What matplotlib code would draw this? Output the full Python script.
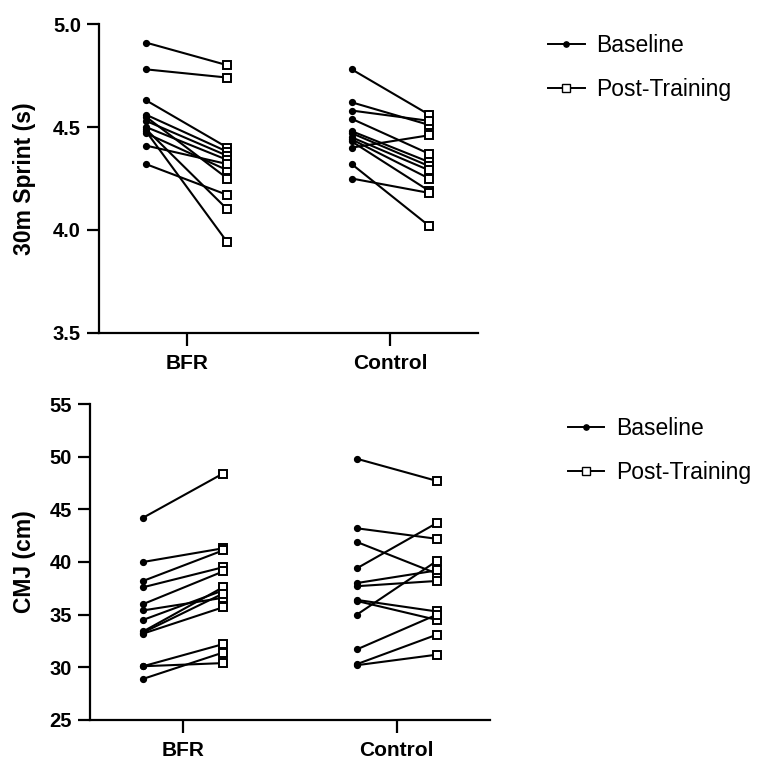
import matplotlib
matplotlib.use("Agg")
import matplotlib.pyplot as plt
from matplotlib.lines import Line2D

plt.rcParams['font.family'] = ['Liberation Sans', 'DejaVu Sans']

groups = ["BFR", "Control"]

# 30m sprint (s)
sprint_bfr_base = [4.91, 4.78, 4.63, 4.56, 4.55, 4.53, 4.50, 4.49, 4.48, 4.47, 4.41, 4.32]
sprint_bfr_post = [4.80, 4.74, 4.40, 4.38, 4.25, 4.36, 4.34, 4.10, 3.94, 4.29, 4.32, 4.17]
sprint_con_base = [4.78, 4.62, 4.58, 4.54, 4.48, 4.47, 4.45, 4.44, 4.43, 4.40, 4.32, 4.25]
sprint_con_post = [4.56, 4.51, 4.53, 4.37, 4.33, 4.31, 4.29, 4.25, 4.19, 4.46, 4.02, 4.18]

# CMJ (cm)
cmj_bfr_base = [44.2, 40.0, 38.2, 37.6, 36.0, 35.4, 34.5, 33.4, 33.3, 33.2, 30.1, 30.1, 28.9]
cmj_bfr_post = [48.4, 41.3, 41.1, 39.5, 39.1, 36.6, 37.3, 37.6, 37.0, 35.7, 32.2, 30.4, 31.4]
cmj_con_base = [49.8, 43.2, 41.9, 39.4, 38.0, 37.7, 36.4, 36.3, 35.0, 31.7, 30.3, 30.2]
cmj_con_post = [47.7, 42.2, 38.9, 43.7, 39.2, 38.2, 35.3, 34.5, 40.1, 35.0, 33.1, 31.2]


def draw_pairs(ax, x0, base, post, off):
    for b, p in zip(base, post):
        ax.plot([x0 - off, x0 + off], [b, p], color="black", lw=1.5, zorder=2)
    ax.plot([x0 - off] * len(base), base, "o", color="black", ms=4.2, zorder=3)
    ax.plot([x0 + off] * len(post), post, "s", mfc="white", mec="black",
            mew=1.4, ms=5.5, zorder=3)


def style(ax, ylabel, lx):
    for s in ["top", "right"]:
        ax.spines[s].set_visible(False)
    for s in ["left", "bottom"]:
        ax.spines[s].set_linewidth(1.6)
    ax.tick_params(axis="y", width=1.6, length=9, labelsize=14.5, pad=4)
    ax.tick_params(axis="x", width=1.6, length=9, labelsize=15, pad=6)
    ax.set_xticks([0, 1])
    ax.set_xticklabels(groups, fontweight="bold")
    for t in ax.get_yticklabels():
        t.set_fontweight("bold")
    ax.set_ylabel(ylabel, fontsize=16.5, fontweight="bold")
    ax.yaxis.set_label_coords(lx, 0.5)


fig = plt.figure(figsize=(7.63, 7.63), dpi=100)

ax1 = fig.add_axes([0.1298, 0.5636, 0.4967, 0.4049])
draw_pairs(ax1, 0, sprint_bfr_base, sprint_bfr_post, 0.2)
draw_pairs(ax1, 1, sprint_con_base, sprint_con_post, 0.19)
ax1.set_xlim(-0.43, 1.43)
ax1.set_ylim(3.5, 5.0)
ax1.set_yticks([3.5, 4.0, 4.5, 5.0])
ax1.set_yticklabels(["3.5", "4.0", "4.5", "5.0"])
style(ax1, "30m Sprint (s)", -0.166)

ax2 = fig.add_axes([0.118, 0.0564, 0.524, 0.4141])
draw_pairs(ax2, 0, cmj_bfr_base, cmj_bfr_post, 0.187)
draw_pairs(ax2, 1, cmj_con_base, cmj_con_post, 0.187)
ax2.set_xlim(-0.435, 1.435)
ax2.set_ylim(25, 55)
ax2.set_yticks([25, 30, 35, 40, 45, 50, 55])
style(ax2, "CMJ (cm)", -0.135)

handles = [
    Line2D([], [], color="black", lw=1.4, marker="o", ms=3.8),
    Line2D([], [], color="black", lw=1.4, marker="s", mfc="white", ms=5.5),
]
labels = ["Baseline", "Post-Training"]
for anchor in [(0.718, 0.955), (0.744, 0.453)]:
    fig.legend(handles, labels, loc="upper left", bbox_to_anchor=anchor,
               frameon=False, fontsize=16.5, handlelength=1.6,
               handletextpad=0.5, labelspacing=0.9, borderpad=0,
               borderaxespad=0)

fig.savefig("out.png", dpi=100)
